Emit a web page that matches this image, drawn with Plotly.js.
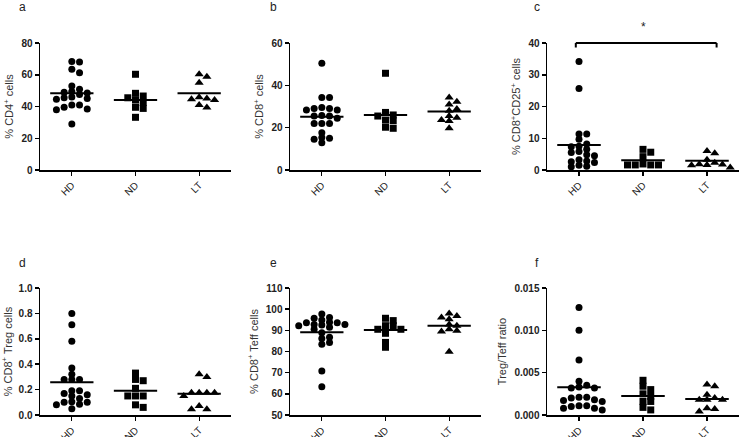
<!DOCTYPE html>
<html>
<head>
<meta charset="utf-8">
<script src="https://cdn.plot.ly/plotly-3.0.1.min.js"></script>
<style>html,body{margin:0;padding:0;background:#fff;}#chart{width:740px;height:437px;}</style>
</head>
<body>
<div id="chart"></div>
<script>
// ---- data ----
const categories = ['HD', 'ND', 'LT'];
const panelLetters = ['a', 'b', 'c', 'd', 'e', 'f'];
const yTitles = ['% CD4<sup>+</sup> cells', '% CD8<sup>+</sup> cells', '% CD8<sup>+</sup>CD25<sup>+</sup> cells',
                 '% CD8<sup>+</sup> Treg cells', '% CD8<sup>+</sup> Teff cells', 'Treg/Teff ratio'];

const cd4HD = [68.0, 68.3, 63.4, 61.3, 52.9, 50.8, 49.5, 49.0, 48.5, 47.5, 46.0, 45.5, 45.0, 44.5, 41.0, 41.0, 39.5, 38.5, 38.0, 29.0];
const cd4ND = [60.3, 48.3, 46.6, 45.5, 44.1, 42.6, 39.5, 38.8, 33.2];
const cd4LT = [60.3, 58.8, 55.0, 45.8, 45.0, 44.5, 44.1, 41.0, 39.3];
const cd4Lines = [48.3, 44.1, 48.3];

const cd8HD = [50.4, 34.3, 34.3, 29.5, 29.0, 29.0, 28.3, 28.3, 25.8, 25.5, 25.5, 24.4, 22.0, 22.0, 22.0, 17.6, 15.3, 15.0, 14.5, 12.9];
const cd8ND = [45.7, 27.2, 26.0, 25.5, 23.6, 23.3, 20.2, 19.7];
const cd8LT = [34.3, 32.3, 31.0, 28.8, 28.0, 25.5, 24.7, 23.6, 23.1, 19.7];
const cd8Lines = [25.2, 26.0, 27.6];

const cd25HD = [34.2, 25.7, 11.3, 11.3, 9.7, 8.2, 7.5, 7.3, 6.5, 5.8, 5.5, 4.8, 4.5, 3.2, 2.8, 2.6, 2.4, 1.5, 1.2, 1.0];
const cd25ND = [6.5, 5.6, 4.2, 1.9, 1.6, 1.6, 1.6, 1.6];
const cd25LT = [6.0, 5.3, 3.2, 2.3, 1.8, 1.7, 1.6, 1.5, 0.8];
const cd25Lines = [7.9, 3.1, 2.9];

const tregHD = [0.80, 0.71, 0.58, 0.37, 0.32, 0.28, 0.28, 0.28, 0.19, 0.19, 0.17, 0.16, 0.15, 0.13, 0.105, 0.10, 0.10, 0.085, 0.08, 0.05];
const tregND = [0.33, 0.28, 0.27, 0.21, 0.15, 0.15, 0.15, 0.08, 0.06];
const tregLT = [0.32, 0.30, 0.175, 0.175, 0.175, 0.175, 0.15, 0.07, 0.045, 0.045];
const tregLines = [0.257, 0.19, 0.168];

const teffHD = [97.7, 96.1, 95.7, 94.9, 93.8, 93.6, 93.6, 92.8, 92.8, 92.5, 92.2, 91.5, 90.5, 88.9, 86.7, 86.2, 84.3, 83.4, 70.8, 63.4];
const teffND = [95.7, 94.6, 92.2, 92.2, 90.5, 90.5, 88.6, 84.3, 82.0];
const teffLT = [98.0, 96.8, 96.1, 95.2, 92.8, 92.2, 90.5, 89.8, 89.5, 79.9];
const teffLines = [89.1, 90.2, 92.2];

const ratioHD = [0.0127, 0.0100, 0.0065, 0.0040, 0.0035, 0.0033, 0.0032, 0.0032, 0.0021, 0.0021, 0.0020, 0.0018, 0.0017, 0.0016, 0.0011, 0.0011, 0.0010, 0.0008, 0.0008, 0.0006];
const ratioND = [0.0041, 0.0034, 0.0030, 0.0025, 0.0022, 0.0016, 0.0016, 0.0009, 0.0006];
const ratioLT = [0.0036, 0.0034, 0.0024, 0.0020, 0.0018, 0.0018, 0.0018, 0.0008, 0.0007, 0.0004];
const ratioLines = [0.00327, 0.00224, 0.00189];

const yRanges = [[0, 80], [0, 60], [0, 40], [0, 1], [50, 110], [0, 0.015]];
const yDticks = [20, 20, 10, 0.2, 10, 0.005];
const yFormats = ['', '', '', '.1f', '', '.3f'];

// ---- build ----
const groups = [
  [cd4HD, cd4ND, cd4LT, cd4Lines],
  [cd8HD, cd8ND, cd8LT, cd8Lines],
  [cd25HD, cd25ND, cd25LT, cd25Lines],
  [tregHD, tregND, tregLT, tregLines],
  [teffHD, teffND, teffLT, teffLines],
  [ratioHD, ratioND, ratioLT, ratioLines]
];
const symbols = ['circle', 'square', 'triangle-up'];
const sizes = [7, 7, 8];

const W = 740, H = 437;
const colPx = [[40, 231], [290, 481], [547, 739]];
const rowPx = [[43, 170], [288, 415]];
const plotH = 127;
const catPx = (231 - 40) / 3;
const slotPx = 7.7;
const minDist = 4.8;
const FONT = 'Liberation Sans, Arial, sans-serif';

function swarm(vals, pxPerUnit) {
  const order = vals.map((v, i) => i).sort((a, b) => vals[b] - vals[a]);
  const placed = [];
  const offs = new Array(vals.length).fill(0);
  for (const i of order) {
    const yp = vals[i] * pxPerUnit;
    for (let k = 0; k < 30; k++) {
      const slot = k === 0 ? 0 : (k % 2 ? (k + 1) / 2 : -k / 2);
      const xp = slot * slotPx;
      if (placed.every(p => Math.abs(p.x - xp) > 0.1 || Math.abs(p.y - yp) >= minDist)) {
        offs[i] = slot * slotPx / catPx;
        placed.push({x: xp, y: yp});
        break;
      }
    }
  }
  return offs;
}

const data = [];
const layout = {
  width: W, height: H,
  margin: {l: 0, r: 0, t: 0, b: 0},
  paper_bgcolor: '#fff', plot_bgcolor: '#fff',
  showlegend: false,
  font: {family: FONT, color: '#222'},
  annotations: [], shapes: []
};

for (let p = 0; p < 6; p++) {
  const col = p % 3, row = Math.floor(p / 3);
  const sfx = p === 0 ? '' : String(p + 1);
  const xa = 'x' + sfx, ya = 'y' + sfx;
  const rng = yRanges[p];
  const pxPerUnit = plotH / (rng[1] - rng[0]);
  const g = groups[p];
  for (let c = 0; c < 3; c++) {
    const vals = g[c];
    const offs = swarm(vals, pxPerUnit);
    data.push({
      type: 'scatter', mode: 'markers', xaxis: xa, yaxis: ya,
      x: vals.map((v, i) => c + offs[i]), y: vals,
      marker: {symbol: symbols[c], size: sizes[c], color: '#000', line: {width: 0}},
      cliponaxis: false, hoverinfo: 'y'
    });
    data.push({
      type: 'scatter', mode: 'lines', xaxis: xa, yaxis: ya,
      x: [c - 0.34, c + 0.34], y: [g[3][c], g[3][c]],
      line: {color: '#000', width: 2}, cliponaxis: false, hoverinfo: 'skip'
    });
  }
  layout['xaxis' + sfx] = {
    domain: [colPx[col][0] / W, colPx[col][1] / W],
    anchor: ya, range: [-0.5, 2.5],
    tickvals: [0, 1, 2], ticktext: categories, tickangle: -45,
    ticks: 'outside', ticklen: 4, tickwidth: 1.2, tickcolor: '#000',
    showline: true, linecolor: '#000', linewidth: 1.5,
    showgrid: false, zeroline: false,
    tickfont: {family: FONT, size: 10, color: '#222'}
  };
  layout['yaxis' + sfx] = {
    domain: [1 - rowPx[row][1] / H, 1 - rowPx[row][0] / H],
    anchor: xa, range: rng, tick0: rng[0], dtick: yDticks[p], tickformat: yFormats[p],
    ticks: 'outside', ticklen: 4, tickwidth: 1.5, tickcolor: '#000',
    showline: true, linecolor: '#000', linewidth: 1.5,
    showgrid: false, zeroline: false,
    tickfont: {family: FONT, size: 10, color: '#222', weight: 'bold'},
    title: {text: yTitles[p], font: {family: FONT, size: 11, color: '#333'}, standoff: 5}
  };
  layout.annotations.push({
    xref: 'paper', yref: 'paper',
    x: [22, 273, 537][col] / W, y: 1 - [7, 263][row] / H,
    xanchor: 'center', yanchor: 'middle', showarrow: false,
    text: panelLetters[p], font: {family: FONT, size: 12, color: '#222'}
  });
}

// significance bracket on panel c
const topC = 1 - rowPx[0][0] / H;
const tickDrop = 4.5 / H;
[[-0.05, 2.15, topC, topC], [-0.05, -0.05, topC, topC - tickDrop], [2.15, 2.15, topC, topC - tickDrop]].forEach(s => {
  layout.shapes.push({type: 'line', xref: 'x3', yref: 'paper', x0: s[0], x1: s[1], y0: s[2], y1: s[3],
    line: {color: '#000', width: 2}});
});
layout.annotations.push({
  xref: 'x3', yref: 'paper', x: 1, y: 1 - 27 / H, xanchor: 'center', yanchor: 'middle',
  showarrow: false, text: '*', font: {family: FONT, size: 12, color: '#222'}
});

Plotly.newPlot('chart', data, layout, {displayModeBar: false, staticPlot: true});
</script>
</body>
</html>
